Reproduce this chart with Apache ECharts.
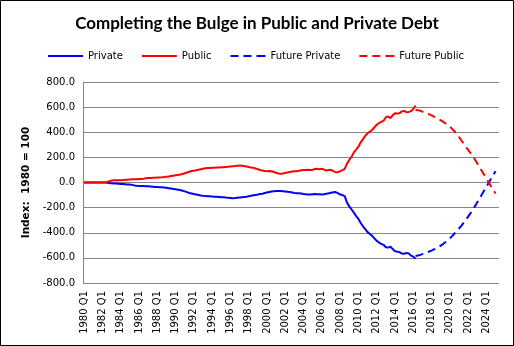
<!DOCTYPE html>
<html>
<head>
<meta charset="utf-8">
<script src="https://cdn.jsdelivr.net/npm/echarts@6/dist/echarts.min.js"></script>
<style>html,body{margin:0;padding:0;background:#fff}#c{width:514px;height:346px}</style>
</head>
<body>
<div id="c"></div>
<script>
var title = 'Completing the Bulge in Public and Private Debt';
var yAxisName = 'Index:  1980 = 100';
var seriesNames = ['Private', 'Public', 'Future Private', 'Future Public'];
var firstYear = 1980;
var quarterCount = 182;
var yTicks = [-800, -600, -400, -200, 0, 200, 400, 600, 800];

var privateVals = [0,0,0,0,0,0,0,0,0,0,-2,-5,-6,-7,-8,-10,-11,-12,-13,-15,-16,-19,-23,-26,-27,-28,-28,-29,-30,-31,-33,-35,-36,-37,-38,-40,-42,-45,-48,-51,-54,-57,-60,-65,-71,-77,-83,-87,-92,-96,-100,-104,-106,-107,-109,-110,-112,-113,-114,-115,-117,-118,-120,-121,-123,-125,-124,-122,-120,-118,-116,-114,-110,-106,-102,-99,-96,-92,-89,-84,-79,-75,-72,-70,-68,-67,-68,-70,-72,-74,-75,-79,-83,-85,-86,-88,-91,-93,-95,-96,-94,-92,-93,-94,-96,-93,-89,-86,-82,-77,-76,-85,-96,-100,-108,-160,-190,-215,-240,-268,-290,-322,-350,-372,-395,-410,-425,-445,-465,-478,-488,-496,-515,-518,-510,-530,-547,-550,-555,-566,-568,-560,-565,-582,-590,-608];
var publicVals = [0,0,0,0,0,0,0,0,0,1,4,10,15,17,17,18,18,19,21,22,24,25,25,26,27,28,30,33,35,36,37,38,39,40,41,43,46,48,51,54,57,60,63,68,74,80,86,91,94,97,101,106,110,113,115,116,117,118,119,120,121,122,124,126,128,130,131,133,135,133,131,128,124,120,117,112,106,100,95,91,90,91,89,84,78,72,69,72,76,80,84,87,89,90,94,97,99,100,101,100,102,108,109,106,109,102,96,99,101,90,82,84,90,98,108,150,180,205,240,262,285,320,345,372,392,405,418,440,460,472,482,492,520,525,512,535,552,550,552,566,570,560,562,568,585,613];
var futureStart = 145;
var futurePrivateVals = [-585,-581,-576,-570,-563,-556,-549,-542,-533,-524,-514,-502,-490,-476,-461,-445,-427,-407,-387,-366,-345,-322,-298,-272,-246,-218,-188,-158,-127,-96,-64,-33,-2,30,60,90];
var futurePublicVals = [578,576,571,564,557,549,542,534,525,515,505,495,485,472,459,444,427,408,386,362,336,310,285,260,235,210,181,152,122,92,62,31,0,-30,-60,-88];

var categories = [];
for (var i = 0; i < quarterCount; i++) {
  categories.push((firstYear + Math.floor(i / 4)) + ' Q' + (i % 4 + 1));
}
function pad(vals, start) {
  var out = [];
  for (var i = 0; i < start; i++) out.push(null);
  return out.concat(vals);
}

var solidIcon = 'path://M0,0h35v2h-35z';
var dashIcon = 'path://M0,0h8v2h-8z M13,0h8v2h-8z M26,0h9v2h-9z';

var chart = echarts.init(document.getElementById('c'), null, {renderer: 'canvas'});
var axisFont = 'DejaVu Sans';
var dash = [8, 5];
chart.setOption({
  animation: false,
  backgroundColor: '#fff',
  title: {
    text: title, left: 'center', top: 10,
    textStyle: {fontFamily: 'Lato', fontWeight: 'bold', fontSize: 17, color: '#000'}
  },
  legend: {
    data: [
      {name: seriesNames[0], icon: solidIcon},
      {name: seriesNames[1], icon: solidIcon},
      {name: seriesNames[2], icon: dashIcon},
      {name: seriesNames[3], icon: dashIcon}
    ],
    left: 43, top: 46, itemWidth: 35, itemHeight: 2, itemGap: 19,
    textStyle: {fontFamily: axisFont, fontSize: 10, color: '#000'}
  },
  grid: {left: 83, right: 15, top: 82, bottom: 63, containLabel: false},
  xAxis: {
    type: 'category', data: categories, boundaryGap: true,
    axisLine: {lineStyle: {color: '#868686', width: 1}},
    axisTick: {show: false},
    axisLabel: {interval: 7, rotate: 90, fontFamily: axisFont, fontSize: 10, color: '#000', margin: 8}
  },
  yAxis: {
    type: 'value', min: yTicks[0], max: yTicks[yTicks.length - 1], interval: 200,
    name: yAxisName, nameLocation: 'middle', nameGap: 50, nameRotate: 90,
    nameTextStyle: {fontFamily: axisFont, fontWeight: 'bold', fontSize: 10.5, color: '#000'},
    axisLine: {show: true, lineStyle: {color: '#868686', width: 1}},
    axisTick: {show: false},
    splitLine: {lineStyle: {color: '#868686', width: 1}},
    axisLabel: {fontFamily: axisFont, fontSize: 10, color: '#000', margin: 8,
      formatter: function (v) { return v.toFixed(1); }}
  },
  series: [
    {name: seriesNames[0], type: 'line', data: privateVals, symbol: 'none', color: '#0000FF',
      lineStyle: {width: 2, color: '#0000FF'}},
    {name: seriesNames[1], type: 'line', data: publicVals, symbol: 'none', color: '#FF0000',
      lineStyle: {width: 2, color: '#FF0000'}},
    {name: seriesNames[2], type: 'line', data: pad(futurePrivateVals, futureStart), symbol: 'none', color: '#0000FF',
      lineStyle: {width: 2, color: '#0000FF', type: dash}},
    {name: seriesNames[3], type: 'line', data: pad(futurePublicVals, futureStart), symbol: 'none', color: '#FF0000',
      lineStyle: {width: 2, color: '#FF0000', type: dash}}
  ],
  graphic: [{type: 'rect', shape: {x: 0.5, y: 0.5, width: 513, height: 345},
    style: {fill: 'none', stroke: '#000', lineWidth: 1}, silent: true}]
});
</script>
</body>
</html>
